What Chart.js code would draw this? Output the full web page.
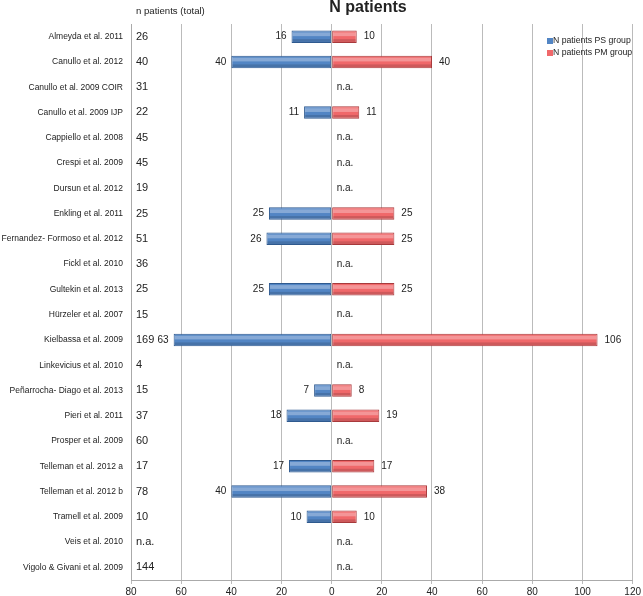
<!DOCTYPE html>
<html>
<head>
<meta charset="utf-8">
<script src="https://cdn.jsdelivr.net/npm/chart.js@4"></script>
<style>
  html, body { margin: 0; padding: 0; background: #fff; }
  #wrap { width: 643px; height: 596px; }
</style>
</head>
<body>
<div id="wrap"><canvas id="chart" width="643" height="596"></canvas></div>
<script>
const studies = ['Almeyda et al. 2011', 'Canullo et al. 2012', 'Canullo et al. 2009 COIR', 'Canullo et al. 2009 IJP',
    'Cappiello et al. 2008', 'Crespi et al. 2009', 'Dursun et al. 2012', 'Enkling et al. 2011',
    'Fernandez- Formoso et al. 2012', 'Fickl et al. 2010', 'Gultekin et al. 2013', 'Hürzeler et al. 2007',
    'Kielbassa et al. 2009', 'Linkevicius et al. 2010', 'Peñarrocha- Diago et al. 2013', 'Pieri et al. 2011',
    'Prosper et al. 2009', 'Telleman et al. 2012 a', 'Telleman et al. 2012 b', 'Tramell et al. 2009',
    'Veis et al. 2010', 'Vigolo & Givani et al. 2009'];
const totals = ['26', '40', '31', '22', '45', '45', '19', '25', '51', '36', '25', '15', '169', '4', '15', '37',
    '60', '17', '78', '10', 'n.a.', '144'];
const psGroup = [16, 40, null, 11, null, null, null, 25, 26, null, 25, null, 63, null, 7, 18, null, 17, 40, 10, null, null];
const pmGroup = [10, 40, null, 11, null, null, null, 25, 25, null, 25, null, 106, null, 8, 19, null, 17, 38, 10, null, null];
const xTicks = [-80, -60, -40, -20, 0, 20, 40, 60, 80, 100, 120];

const FONT = '"Liberation Sans", Arial, Helvetica, sans-serif';
const BLUE = '#5285c4';
const RED = '#f0686a';

// extra text: title, total column, value labels, n.a., legend
const annotations = {
    id: 'annotations',
    afterDatasetsDraw(chart) {
        const ctx = chart.ctx;
        const x = chart.scales.x;
        const y = chart.scales.y;
        const metaPS = chart.getDatasetMeta(0);
        const metaPM = chart.getDatasetMeta(1);

        // shading on each bar for the 3d look
        [metaPS, metaPM].forEach((meta, di) => {
            meta.data.forEach((bar, i) => {
                const v = di === 0 ? psGroup[i] : pmGroup[i];
                if (v == null) return;
                const left = Math.min(bar.x, bar.base), right = Math.max(bar.x, bar.base);
                const top = bar.y - bar.height / 2;
                ctx.save();
                ctx.fillStyle = 'rgba(255,255,255,0.3)';
                ctx.fillRect(left + 1, top + 2, right - left - 2, bar.height * 0.3);
                ctx.fillStyle = 'rgba(0,0,0,0.14)';
                ctx.fillRect(left + 1, top + bar.height * 0.7, right - left - 2, bar.height * 0.3 - 1);
                ctx.restore();
            });
        });

        ctx.save();
        ctx.fillStyle = '#222';
        ctx.textBaseline = 'middle';

        ctx.font = '9.6px ' + FONT;
        ctx.textAlign = 'left';
        ctx.fillText('n patients (total)', 136, 11);

        ctx.font = 'bold 16px ' + FONT;
        ctx.textAlign = 'center';
        ctx.fillText('N patients', 368, 8);

        studies.forEach((s, i) => {
            const yy = y.getPixelForValue(i);
            ctx.font = '11px ' + FONT;
            ctx.textAlign = 'left';
            ctx.fillText(totals[i], 136, yy);

            ctx.font = '10px ' + FONT;
            if (psGroup[i] == null) {
                ctx.textAlign = 'left';
                ctx.fillText('n.a.', x.getPixelForValue(0) + 5, yy);
                return;
            }
            ctx.textAlign = 'right';
            ctx.fillText(String(psGroup[i]), x.getPixelForValue(-psGroup[i]) - 5, yy);
            ctx.textAlign = 'left';
            ctx.fillText(String(pmGroup[i]), x.getPixelForValue(pmGroup[i]) + 7, yy);
        });

        // legend
        ctx.font = '8.7px ' + FONT;
        ctx.textAlign = 'left';
        const legend = [['N patients PS group', BLUE], ['N patients PM group', RED]];
        legend.forEach(([label, color], k) => {
            const ly = 41 + k * 12;
            ctx.fillStyle = color;
            ctx.fillRect(547, ly - 3, 6, 6);
            ctx.fillStyle = '#222';
            ctx.fillText(label, 553, ly);
        });
        ctx.restore();
    }
};

new Chart(document.getElementById('chart'), {
    type: 'bar',
    data: {
        labels: studies,
        datasets: [{
            label: 'N patients PS group',
            data: psGroup.map(v => v == null ? null : -v),
            backgroundColor: BLUE,
            borderColor: '#2f5a8f',
            borderWidth: 1,
            borderSkipped: false,
            barPercentage: 0.95,
            categoryPercentage: 0.52
        }, {
            label: 'N patients PM group',
            data: pmGroup,
            backgroundColor: RED,
            borderColor: '#a83a3c',
            borderWidth: 1,
            borderSkipped: false,
            barPercentage: 0.95,
            categoryPercentage: 0.52
        }]
    },
    options: {
        indexAxis: 'y',
        responsive: false,
        animation: false,
        layout: { padding: { top: 24, right: 10, left: 0, bottom: 0 } },
        plugins: {
            legend: { display: false },
            title: { display: false },
            tooltip: { enabled: false }
        },
        scales: {
            x: {
                stacked: true,
                min: -80,
                max: 120,
                afterBuildTicks: scale => { scale.ticks = xTicks.map(v => ({ value: v })); },
                afterFit: scale => { scale.height = 16; },
                ticks: {
                    callback: v => Math.abs(v),
                    color: '#222',
                    font: { size: 10, family: FONT },
                    padding: 2,
                    maxRotation: 0
                },
                grid: { color: '#bbb', lineWidth: 1, drawTicks: true, tickLength: 4 },
                border: { color: '#aaa' }
            },
            y: {
                stacked: true,
                afterFit: scale => { scale.width = 131; },
                ticks: {
                    color: '#222',
                    font: { size: 8.5, family: FONT },
                    padding: 0
                },
                grid: { display: false },
                border: { display: true, color: '#aaa' }
            }
        }
    },
    plugins: [annotations]
});
</script>
</body>
</html>
